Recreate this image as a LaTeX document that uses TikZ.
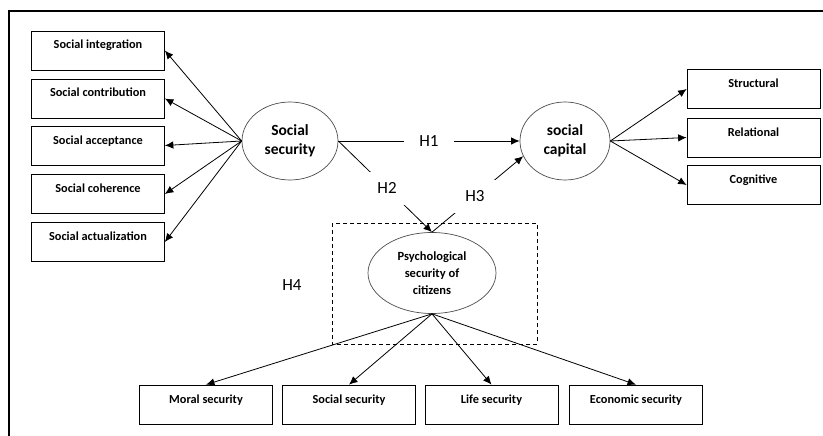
\documentclass[tikz,border=0pt]{standalone}
\usepackage{fontspec}
\setmainfont{Carlito}
\usetikzlibrary{shapes.geometric,arrows.meta}

\tikzset{
  box/.style={draw, line width=0.7pt, minimum width=133pt, inner xsep=2pt,
    text height=10pt, text depth=13pt, inner ysep=8pt,
    font=\bfseries\fontsize{12.3}{14}\selectfont},
  latent/.style={ellipse, draw=black!70, line width=0.7pt, align=center,
    inner sep=0pt, font=\bfseries\fontsize{15.5}{19}\selectfont},
  hlabel/.style={fill=white, inner xsep=15pt, inner ysep=11pt,
    font=\fontsize{17}{20}\selectfont},
  arr/.style={-{Latex[length=8.5pt,width=7.5pt]}, line width=0.8pt},
}

\begin{document}
\begin{tikzpicture}[x=1pt, y=-1pt]
  \useasboundingbox (0,0) rectangle (823,436);

  % Frame
  \draw[line width=1.6pt] (9,436) -- (9,11) -- (823,11);

  % Latent variables
  \node[latent, minimum width=96pt, minimum height=78pt] (ss) at (290,141) {Social\\security};
  \node[latent, minimum width=90pt, minimum height=78pt] (sc) at (565,141) {social\\capital};
  \node[latent, minimum width=128pt, minimum height=81pt,
    font=\bfseries\fontsize{12.5}{17}\selectfont] (psy) at (432,273) {Psychological\\security of\\citizens};

  % Dimensions of social security
  \foreach \name/\y/\txt in {integ/50.5/Social integration, contr/98.5/Social contribution,
      accep/145.5/Social acceptance, coher/194/Social coherence, actua/242/Social actualization}
  {
    \node[box] (\name) at (98,\y) {\txt};
    \draw[arr] (ss.west) -- (\name.east);
  }

  % Dimensions of social capital
  \foreach \name/\y/\txt in {struc/89/Structural, relat/137.5/Relational, cogn/185/Cognitive}
  {
    \node[box] (\name) at (753.5,\y) {\txt};
    \draw[arr] (sc.east) -- (\name.west);
  }

  % Dimensions of psychological security
  \foreach \name/\x/\txt in {moral/206/Moral security, socsec/349/Social security,
      life/491.5/Life security, econ/636/Economic security}
  {
    \node[box] (\name) at (\x,404.5) {\txt};
    \draw[arr] (psy.south) -- (\name.north);
  }

  % Hypotheses
  \draw[arr] (ss.east) -- node[hlabel] {H1} (sc.west);
  \draw[arr] (ss.east) -- node[hlabel, pos=.52] {H2} (psy.north);
  \draw[arr] (psy.north) -- node[hlabel, pos=.47] {H3} (sc.200);

  % Moderation
  \draw[dashed, dash pattern=on 4pt off 3pt, line width=0.7pt] (332,223) rectangle (537,344);
  \node[font=\fontsize{17}{20}\selectfont] (h4) at (292,285) {H4};
\end{tikzpicture}
\end{document}
